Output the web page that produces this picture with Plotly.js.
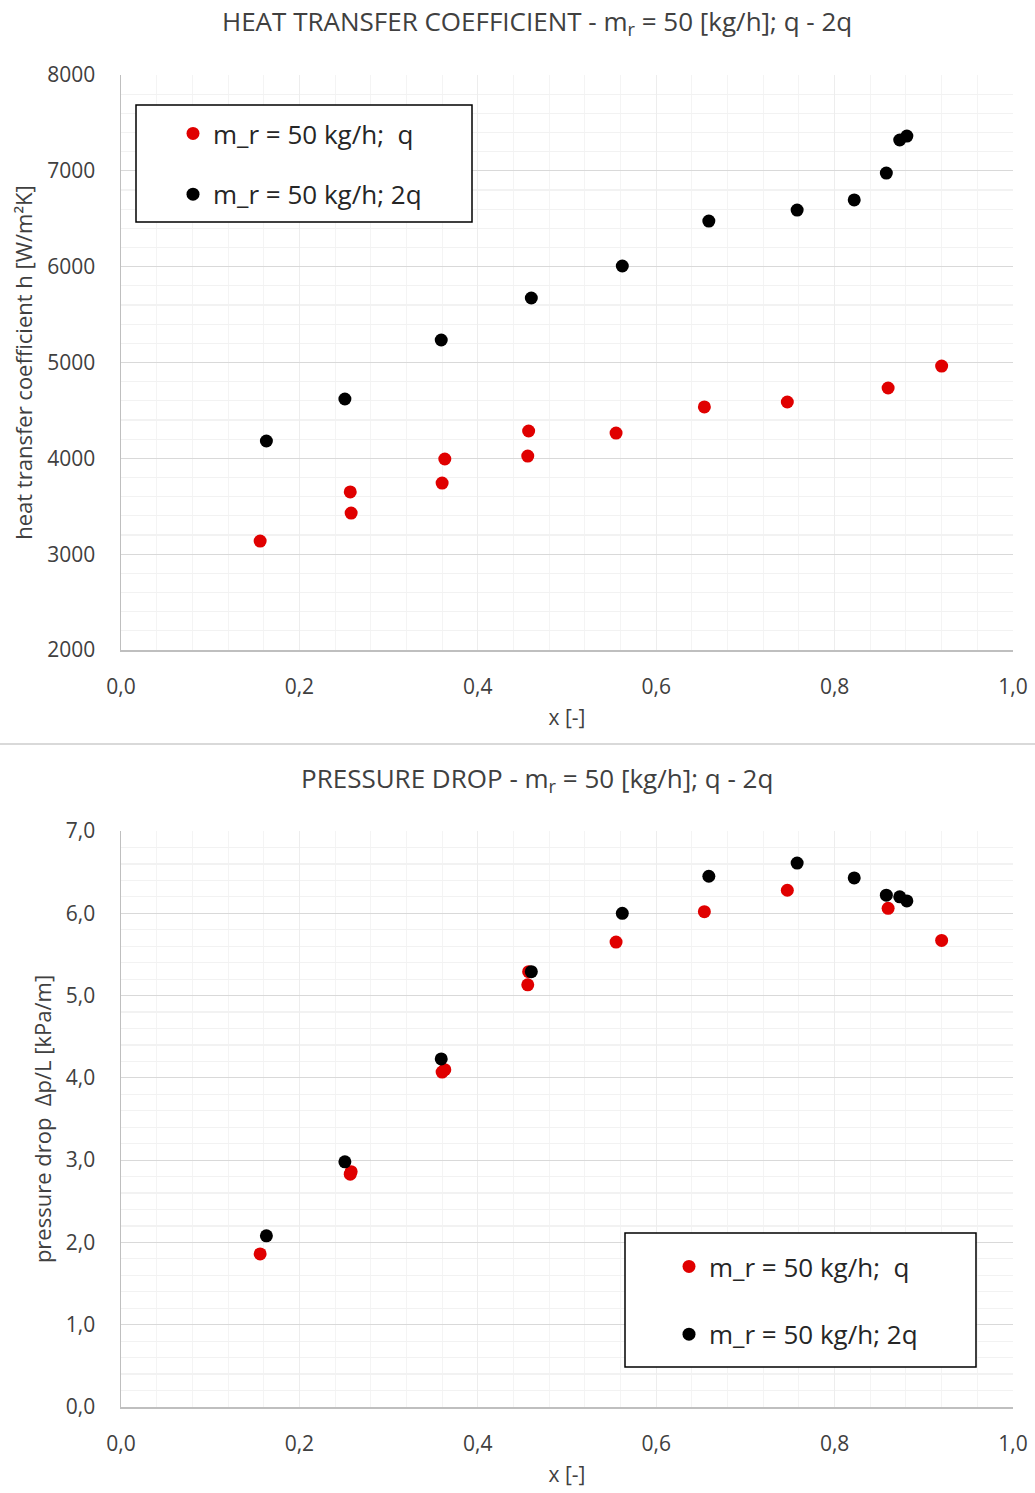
<!DOCTYPE html>
<html>
<head>
<meta charset="utf-8">
<script src="https://cdn.plot.ly/plotly-3.0.1.min.js"></script>
<style>html,body{margin:0;padding:0;background:#fff}#chart{width:1035px;height:1493px}</style>
</head>
<body>
<div id="chart"></div>
<script>
// ---- data ----
const xQ   = [0.156, 0.257, 0.258, 0.360, 0.363, 0.456, 0.457, 0.555, 0.654, 0.747, 0.860, 0.920];
const hQ   = [3137, 3649, 3429, 3742, 3993, 4024, 4285, 4264, 4536, 4588, 4734, 4963];
const dpQ  = [1.86, 2.83, 2.86, 4.07, 4.10, 5.13, 5.29, 5.65, 6.02, 6.28, 6.06, 5.67];

const x2Q  = [0.163, 0.251, 0.359, 0.460, 0.562, 0.659, 0.758, 0.822, 0.858, 0.873, 0.881];
const h2Q  = [4181, 4619, 5235, 5673, 6007, 6476, 6591, 6696, 6977, 7322, 7363];
const dp2Q = [2.08, 2.98, 4.23, 5.29, 6.00, 6.45, 6.61, 6.43, 6.22, 6.20, 6.15];

const nameQ  = 'm_r = 50 kg/h;\u00a0\u00a0q';
const name2Q = 'm_r = 50 kg/h; 2q';
const titleTop = 'HEAT TRANSFER COEFFICIENT - m<sub>r</sub> = 50 [kg/h]; q - 2q';
const titleBot = 'PRESSURE DROP - m<sub>r</sub> = 50 [kg/h]; q - 2q';
const yTitleTop = 'heat transfer coefficient h [W/m²K]';
const yTitleBot = 'pressure drop  Δp/L [kPa/m]';
const xTitle = 'x [-]';

// ---- styling ----
const RED = '#e00000', BLACK = '#000000';
const FONT = '"Open Sans", "Noto Sans", sans-serif';
const TXT = '#404040';

const traces = [
  {x: xQ, y: hQ, name: nameQ, type: 'scatter', mode: 'markers', xaxis: 'x', yaxis: 'y',
   marker: {color: RED, size: 13}, legend: 'legend', legendgroup: 'a'},
  {x: x2Q, y: h2Q, name: name2Q, type: 'scatter', mode: 'markers', xaxis: 'x', yaxis: 'y',
   marker: {color: BLACK, size: 13}, legend: 'legend', legendgroup: 'b'},
  {x: xQ, y: dpQ, name: nameQ, type: 'scatter', mode: 'markers', xaxis: 'x2', yaxis: 'y2',
   marker: {color: RED, size: 13}, legend: 'legend2', legendgroup: 'c'},
  {x: x2Q, y: dp2Q, name: name2Q, type: 'scatter', mode: 'markers', xaxis: 'x2', yaxis: 'y2',
   marker: {color: BLACK, size: 13}, legend: 'legend2', legendgroup: 'd'}
];

const W = 1035, H = 1493, L = 121, R = 22, T = 75, B = 86;
const PW = W - L - R, PH = H - T - B;
const px = X => (X - L) / PW;
const py = Y => (H - B - Y) / PH;

function xa(anchor) {
  return {
    range: [0, 1], dtick: 0.2, tick0: 0, tickformat: '.1f', anchor: anchor,
    showgrid: true, gridcolor: '#ededed', gridwidth: 1,
    minor: {dtick: 0.04, showgrid: true, gridcolor: '#f4f4f4'},
    showline: true, linecolor: '#bfbfbf', linewidth: 1.5, zeroline: false,
    ticks: '', ticklabelstandoff: 17,
    tickfont: {family: FONT, size: 21, color: TXT},
    title: {text: xTitle, font: {family: FONT, size: 21, color: TXT}, standoff: 11}
  };
}
function ya(anchor, dom, range, dtick, mdtick, fmt, title) {
  return {
    domain: dom, range: range, dtick: dtick, tickformat: fmt, anchor: anchor,
    showgrid: true, gridcolor: '#d9d9d9', gridwidth: 1.2,
    minor: {dtick: mdtick, showgrid: true, gridcolor: '#f2f2f2'},
    showline: true, linecolor: '#bfbfbf', linewidth: 1.5, zeroline: false,
    ticks: '', ticklabelstandoff: 20,
    tickfont: {family: FONT, size: 21, color: TXT},
    title: {text: title, font: {family: FONT, size: 22, color: TXT}, standoff: 8}
  };
}

const layout = {
  width: W, height: H,
  margin: {l: L, r: R, t: T, b: B},
  paper_bgcolor: '#ffffff', plot_bgcolor: '#ffffff',
  separators: ', ',
  showlegend: true,
  xaxis: xa('y'),
  yaxis: ya('x', [py(650), 1], [2000, 8000], 1000, 200, 'd', yTitleTop),
  xaxis2: xa('y2'),
  yaxis2: ya('x2', [0, py(831)], [0, 7], 1, 0.2, '.1f', yTitleBot),
  legend: {x: px(173), y: py(110), xanchor: 'left', yanchor: 'top', bgcolor: 'rgba(0,0,0,0)',
           borderwidth: 0, tracegroupgap: 24, itemwidth: 30,
           font: {family: FONT, size: 26, color: '#262626'}},
  legend2: {x: px(669), y: py(1243), xanchor: 'left', yanchor: 'top', bgcolor: 'rgba(0,0,0,0)',
           borderwidth: 0, tracegroupgap: 31, itemwidth: 30,
           font: {family: FONT, size: 26, color: '#262626'}},
  annotations: [
    {text: titleTop, xref: 'paper', yref: 'paper', x: px(537), y: py(22), xanchor: 'center', yanchor: 'middle',
     showarrow: false, font: {family: FONT, size: 26, color: TXT}},
    {text: titleBot, xref: 'paper', yref: 'paper', x: px(537), y: py(779), xanchor: 'center', yanchor: 'middle',
     showarrow: false, font: {family: FONT, size: 26, color: TXT}}
  ],
  shapes: [
    {type: 'rect', xref: 'paper', yref: 'paper', x0: px(136), x1: px(472), y0: py(222), y1: py(105),
     line: {color: '#000000', width: 1.5}, fillcolor: '#ffffff', layer: 'above'},
    {type: 'rect', xref: 'paper', yref: 'paper', x0: px(625), x1: px(976), y0: py(1367), y1: py(1233),
     line: {color: '#000000', width: 1.5}, fillcolor: '#ffffff', layer: 'above'},
    {type: 'line', xref: 'paper', yref: 'paper', x0: px(0), x1: px(1035), y0: py(744), y1: py(744),
     line: {color: '#d9d9d9', width: 2}}
  ]
};

Plotly.newPlot('chart', traces, layout, {staticPlot: true, displayModeBar: false});
</script>
</body>
</html>
